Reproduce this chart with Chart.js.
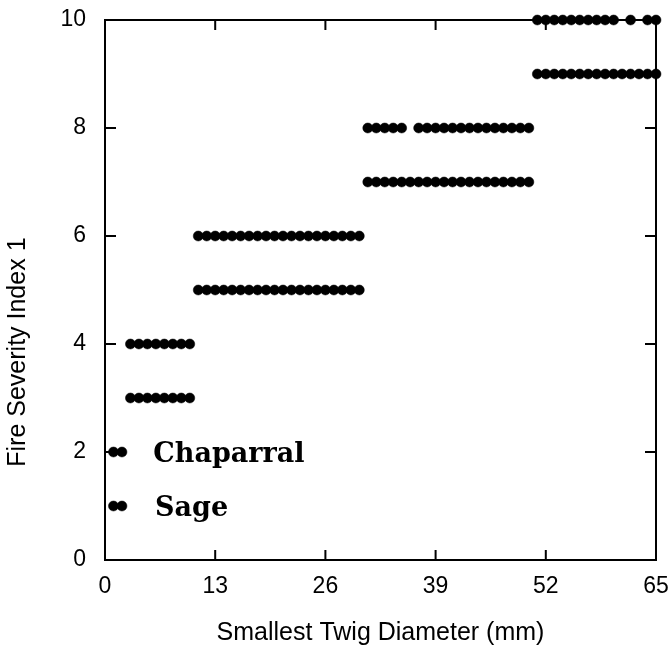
<!DOCTYPE html>
<html>
<head>
<meta charset="utf-8">
<script src="https://cdn.jsdelivr.net/npm/chart.js@4/dist/chart.umd.min.js"></script>
<style>
  body { margin: 0; background: #fff; }
  canvas { display: block; }
</style>
</head>
<body>
<canvas id="twigChart" width="669" height="648"></canvas>
<script>
// Fire severity index vs smallest twig diameter
const xTicks = [0, 13, 26, 39, 52, 65];
const yTicks = [0, 2, 4, 6, 8, 10];

// Sage: odd index levels, x = twig diameter (mm)
const sageLevels = [1, 3, 5, 7, 9];
const sageAt1 = [1, 2];
const sageAt3 = [3, 4, 5, 6, 7, 8, 9, 10];
const sageAt5 = [11, 12, 13, 14, 15, 16, 17, 18, 19, 20, 21, 22, 23, 24, 25, 26, 27, 28, 29, 30];
const sageAt7 = [31, 32, 33, 34, 35, 36, 37, 38, 39, 40, 41, 42, 43, 44, 45, 46, 47, 48, 49, 50];
const sageAt9 = [51, 52, 53, 54, 55, 56, 57, 58, 59, 60, 61, 62, 63, 64, 65];

// Chaparral: even index levels
const chapLevels = [2, 4, 6, 8, 10];
const chapAt2 = [1, 2];
const chapAt4 = [3, 4, 5, 6, 7, 8, 9, 10];
const chapAt6 = [11, 12, 13, 14, 15, 16, 17, 18, 19, 20, 21, 22, 23, 24, 25, 26, 27, 28, 29, 30];
const chapAt8 = [31, 32, 33, 34, 35, 37, 38, 39, 40, 41, 42, 43, 44, 45, 46, 47, 48, 49, 50];
const chapAt10 = [51, 52, 53, 54, 55, 56, 57, 58, 59, 60, 62, 64, 65];

// where the species names sit (data units)
const labelNames = ["Chaparral", "Sage"];
const labelX = [5.7, 5.9];
const labelY = [2, 1];

const yTitle = "Fire Severity Index 1";

function toPoints(levels, rows) {
    const pts = [];
    rows.forEach((xs, i) => {
        xs.forEach(x => pts.push({ x: x, y: levels[i] }));
    });
    return pts;
}

const sagePoints = toPoints(sageLevels, [sageAt1, sageAt3, sageAt5, sageAt7, sageAt9]);
const chapPoints = toPoints(chapLevels, [chapAt2, chapAt4, chapAt6, chapAt8, chapAt10]);

const sansFamily = "'Liberation Sans', Arial, sans-serif";

// box + inward ticks on all four sides, species labels, y title
const framePlugin = {
    id: "frame",
    afterDatasetsDraw(chart) {
        const ctx = chart.ctx;
        const a = chart.chartArea;
        const xs = chart.scales.x;
        const ys = chart.scales.y;
        ctx.save();
        ctx.strokeStyle = "#000";
        ctx.lineWidth = 2;
        ctx.strokeRect(a.left, a.top, a.right - a.left, a.bottom - a.top);
        ctx.beginPath();
        xTicks.slice(1, -1).forEach(v => {
            const px = xs.getPixelForValue(v);
            ctx.moveTo(px, a.bottom); ctx.lineTo(px, a.bottom - 10);
            ctx.moveTo(px, a.top); ctx.lineTo(px, a.top + 10);
        });
        yTicks.slice(1, -1).forEach(v => {
            const py = ys.getPixelForValue(v);
            ctx.moveTo(a.left, py); ctx.lineTo(a.left + 11, py);
            ctx.moveTo(a.right, py); ctx.lineTo(a.right - 11, py);
        });
        ctx.stroke();

        ctx.fillStyle = "#000";
        ctx.font = "bold 27px 'DejaVu Serif'";
        ctx.textBaseline = "alphabetic";
        labelNames.forEach((name, i) => {
            ctx.fillText(name, xs.getPixelForValue(labelX[i]), ys.getPixelForValue(labelY[i]) + 10);
        });

        // y title sits a bit below the middle of the axis
        ctx.translate(18, ys.getPixelForValue(3.85));
        ctx.rotate(-Math.PI / 2);
        ctx.font = "25px " + sansFamily;
        ctx.textAlign = "center";
        ctx.textBaseline = "middle";
        ctx.fillText(yTitle, 0, 0);
        ctx.restore();
    }
};

const tickFont = { family: sansFamily, size: 23 };
const titleFont = { family: sansFamily, size: 25 };

new Chart(document.getElementById("twigChart"), {
    type: "scatter",
    data: {
        datasets: [
            {
                label: "Chaparral",
                data: chapPoints,
                backgroundColor: "#000",
                borderColor: "#000",
                pointRadius: 5,
                borderWidth: 0.5,
                clip: false,
            },
            {
                label: "Sage",
                data: sagePoints,
                backgroundColor: "#000",
                borderColor: "#000",
                pointRadius: 5,
                borderWidth: 0.5,
                clip: false,
            },
        ],
    },
    options: {
        responsive: false,
        animation: false,
        layout: { padding: { top: 20, right: 0, left: 0, bottom: 0 } },
        plugins: {
            legend: { display: false },
            tooltip: { enabled: false },
        },
        scales: {
            x: {
                type: "linear",
                min: 0,
                max: 65,
                afterBuildTicks: scale => { scale.ticks = xTicks.map(v => ({ value: v })); },
                afterFit: scale => {
                    scale.height = 88;
                    scale.paddingLeft = 0;
                    scale.paddingRight = 13;
                },
                grid: { display: false, drawTicks: false, tickLength: 0 },
                border: { display: false },
                ticks: { color: "#000", font: tickFont, padding: 13, maxRotation: 0 },
                title: {
                    display: true,
                    text: "Smallest Twig Diameter (mm)",
                    color: "#000",
                    font: titleFont,
                    padding: { top: 0, bottom: 0 },
                },
            },
            y: {
                type: "linear",
                min: 0,
                max: 10,
                afterBuildTicks: scale => { scale.ticks = yTicks.map(v => ({ value: v })); },
                afterFit: scale => {
                    scale.width = 105;
                    scale.paddingTop = 0;
                    scale.paddingBottom = 0;
                },
                grid: { display: false, drawTicks: false, tickLength: 0 },
                border: { display: false },
                ticks: { color: "#000", font: tickFont, padding: 19 },
            },
        },
    },
    plugins: [framePlugin],
});
</script>
</body>
</html>
